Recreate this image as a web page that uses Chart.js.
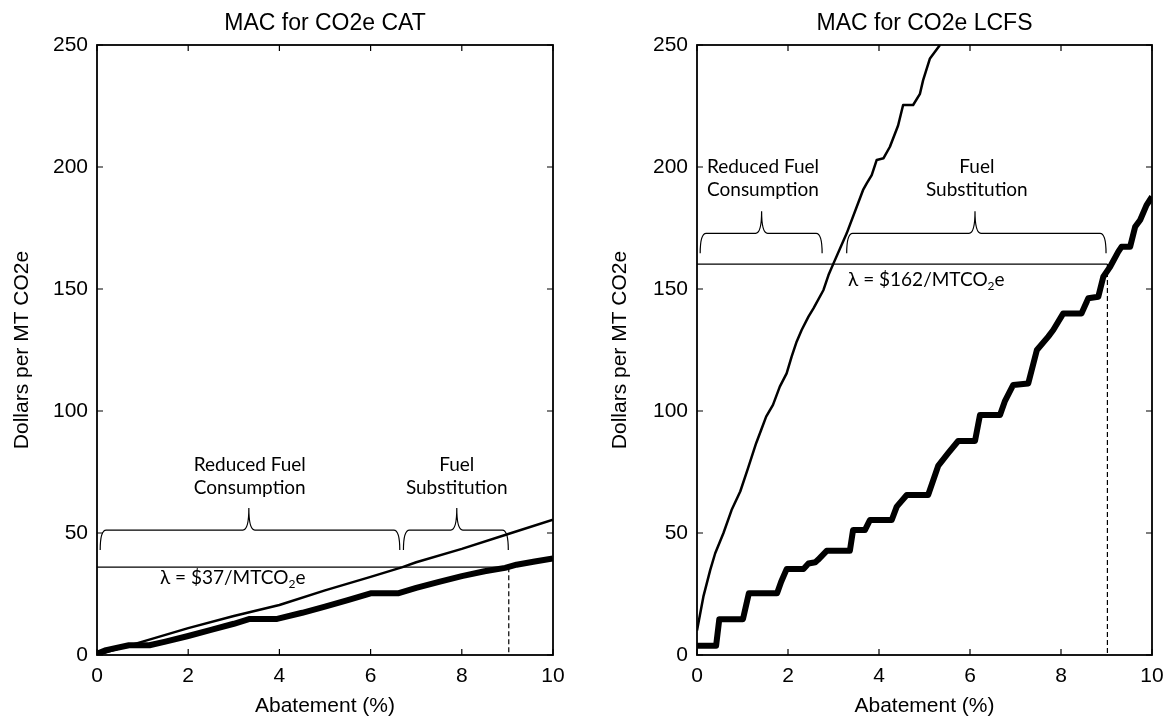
<!DOCTYPE html>
<html>
<head>
<meta charset="utf-8">
<script src="https://cdn.jsdelivr.net/npm/chart.js@4.4.0/dist/chart.umd.min.js"></script>
<style>
  body { margin: 0; background: #fff; width: 1173px; height: 725px; overflow: hidden; }
  canvas { position: absolute; top: 0; }
  #catChart { left: 0; }
  #lcfsChart { left: 586px; }
</style>
</head>
<body>
<canvas id="catChart" width="586" height="725"></canvas>
<canvas id="lcfsChart" width="587" height="725"></canvas>
<script>
// axis ticks
var xTicks = [0, 2, 4, 6, 8, 10];
var yTicks = [0, 50, 100, 150, 200, 250];

// CAT panel
var catThinX = [0, 1, 2, 3, 4, 5, 6, 6.7, 7, 8, 9, 10];
var catThinY = [0, 5.5, 11, 16, 20.5, 26.5, 32, 36, 38, 43.5, 49.5, 55.5];
var catThickX = [0, 0.2, 0.7, 1.15, 1.5, 2, 2.5, 3, 3.35, 3.95, 4.5, 5, 5.5, 6.0, 6.6, 7, 7.5, 8, 8.5, 8.95, 9.2, 9.6, 10];
var catThickY = [0.5, 2, 4, 4, 5.5, 7.8, 10.3, 12.8, 14.8, 14.8, 17.3, 19.8, 22.5, 25.3, 25.3, 27.5, 30, 32.3, 34.3, 35.7, 37, 38.3, 39.6];
var catLambda = 36;
var catLambdaX = 9.03;

// LCFS panel
var lcfsThinX = [0, 0.14, 0.29, 0.4, 0.58, 0.76, 0.95, 1.12, 1.3, 1.41, 1.52, 1.67, 1.82, 1.97, 2.08, 2.19, 2.3, 2.45, 2.56, 2.78, 2.89, 3.0, 3.29, 3.65, 3.73, 3.84, 3.95, 4.1, 4.24, 4.42, 4.53, 4.75, 4.9, 4.97, 5.12, 5.34];
var lcfsThinY = [10, 23.9, 34.8, 41.7, 49.9, 59.4, 67, 76.5, 86.8, 92.2, 97.7, 102.5, 110, 115.4, 122.3, 128.4, 133.2, 138.7, 142.1, 149.6, 155.7, 160.5, 172.8, 190.6, 193.3, 196.7, 202.9, 203.6, 208.3, 217, 225.4, 225.4, 230, 235.6, 244.5, 250];
var lcfsThickX = [0, 0.42, 0.49, 1.01, 1.14, 1.76, 1.85, 1.97, 2.34, 2.45, 2.6, 2.66, 2.85, 3.36, 3.43, 3.69, 3.8, 4.28, 4.39, 4.61, 5.08, 5.3, 5.52, 5.74, 6.11, 6.22, 6.66, 6.77, 6.95, 7.28, 7.47, 7.72, 7.83, 8.05, 8.45, 8.6, 8.82, 8.93, 9.08, 9.26, 9.33, 9.52, 9.63, 9.74, 9.88, 10];
var lcfsThickY = [3.8, 3.8, 14.7, 14.7, 25.3, 25.3, 30, 35.2, 35.2, 37.5, 38, 39, 42.7, 42.7, 51.2, 51.2, 55.3, 55.3, 60.8, 65.6, 65.6, 77.5, 82.7, 87.7, 87.7, 98.4, 98.4, 104.2, 110.7, 111.3, 125, 130.5, 133.2, 140, 140, 146.2, 146.8, 155, 159.1, 165.3, 167.3, 167.3, 175.5, 178.3, 184.4, 187.8];
var lcfsLambda = 160.2;
var lcfsLambdaX = 9.02;

var axisFont = { family: '"Liberation Sans", Arial, sans-serif', size: 21 };
var noteFont = '19px Lato, "Open Sans", sans-serif';
var subFont = '12px Lato, "Open Sans", sans-serif';

function pts(xs, ys) {
    return xs.map(function(x, i) { return { x: x, y: ys[i] }; });
}

// frame, inward ticks, braces and labels
var decorPlugin = {
    id: 'decor',
    afterDraw: function(chart) {
        var ctx = chart.ctx;
        var a = chart.chartArea;
        var xs = chart.scales.x, ys = chart.scales.y;
        var notes = chart.options.plugins.decor;
        ctx.save();
        ctx.strokeStyle = '#000';
        ctx.lineWidth = 1.8;
        ctx.strokeRect(a.left, a.top, a.right - a.left, a.bottom - a.top);
        ctx.lineWidth = 1.2;
        ctx.beginPath();
        xTicks.forEach(function(v) {
            var px = xs.getPixelForValue(v);
            ctx.moveTo(px, a.bottom); ctx.lineTo(px, a.bottom - 6);
            ctx.moveTo(px, a.top); ctx.lineTo(px, a.top + 6);
        });
        yTicks.forEach(function(v) {
            var py = ys.getPixelForValue(v);
            ctx.moveTo(a.left, py); ctx.lineTo(a.left + 6, py);
            ctx.moveTo(a.right, py); ctx.lineTo(a.right - 6, py);
        });
        ctx.stroke();

        // curly braces
        ctx.lineWidth = 1.2;
        notes.braces.forEach(function(b) {
            var x1 = xs.getPixelForValue(b.x1), x2 = xs.getPixelForValue(b.x2);
            var xt = xs.getPixelForValue(b.tip), y = ys.getPixelForValue(b.y);
            var r = 6, down = 20, up = 22;
            ctx.beginPath();
            ctx.moveTo(x1, y + down);
            ctx.quadraticCurveTo(x1, y, x1 + r, y);
            ctx.lineTo(xt - r, y);
            ctx.quadraticCurveTo(xt, y, xt, y - up);
            ctx.quadraticCurveTo(xt, y, xt + r, y);
            ctx.lineTo(x2 - r, y);
            ctx.quadraticCurveTo(x2, y, x2, y + down);
            ctx.stroke();
        });

        ctx.fillStyle = '#000';
        ctx.font = noteFont;
        ctx.textAlign = 'center';
        ctx.textBaseline = 'middle';
        notes.labels.forEach(function(l) {
            ctx.fillText(l.text, xs.getPixelForValue(l.x), ys.getPixelForValue(l.y));
        });

        // lambda label with subscript
        var lx = xs.getPixelForValue(notes.lambda.x), ly = ys.getPixelForValue(notes.lambda.y);
        ctx.textAlign = 'left';
        var p1 = notes.lambda.text, p2 = '2', p3 = 'e';
        ctx.fillText(p1, lx, ly);
        var w1 = ctx.measureText(p1).width;
        ctx.font = subFont;
        ctx.fillText(p2, lx + w1, ly + 6);
        var w2 = ctx.measureText(p2).width;
        ctx.font = noteFont;
        ctx.fillText(p3, lx + w1 + w2, ly);
        ctx.restore();
    }
};

function makeChart(id, title, thin, thick, lambdaY, lambdaX, yWidth, yTitlePad, rightPad, decor) {
    var ctx = document.getElementById(id).getContext('2d');
    return new Chart(ctx, {
        type: 'scatter',
        data: {
            datasets: [
                { data: thin, borderColor: '#000', borderWidth: 2.5 },
                { data: thick, borderColor: '#000', borderWidth: 6 },
                { data: [{ x: 0, y: lambdaY }, { x: lambdaX, y: lambdaY }], borderColor: '#000', borderWidth: 1.2 },
                { data: [{ x: lambdaX, y: lambdaY }, { x: lambdaX, y: 0 }], borderColor: '#000', borderWidth: 1.2, borderDash: [5, 3] }
            ]
        },
        options: {
            responsive: false,
            animation: false,
            devicePixelRatio: 1,
            showLine: true,
            elements: { point: { radius: 0, hoverRadius: 0 }, line: { tension: 0, borderJoinStyle: 'round', borderCapStyle: 'butt' } },
            layout: { padding: { left: 0, right: rightPad, top: 0, bottom: 0 } },
            plugins: {
                legend: { display: false },
                tooltip: { enabled: false },
                title: {
                    display: true, text: title, color: '#000', fullSize: false,
                    font: { family: axisFont.family, size: 23, weight: 'normal' },
                    padding: { top: 9.5, bottom: 7.9 }
                },
                decor: decor
            },
            scales: {
                x: {
                    type: 'linear', min: 0, max: 10,
                    afterBuildTicks: function(s) { s.ticks = xTicks.map(function(v) { return { value: v }; }); },
                    afterFit: function(s) { s.height = 70; },
                    grid: { display: false, drawTicks: false },
                    border: { display: false },
                    ticks: { color: '#000', font: axisFont, padding: 8.5, maxRotation: 0 },
                    title: { display: true, text: 'Abatement (%)', color: '#000', font: axisFont, padding: { top: 0, bottom: 6.4 } }
                },
                y: {
                    type: 'linear', min: 0, max: 250,
                    afterBuildTicks: function(s) { s.ticks = yTicks.map(function(v) { return { value: v }; }); },
                    afterFit: function(s) { s.width = yWidth; },
                    grid: { display: false, drawTicks: false },
                    border: { display: false },
                    ticks: { color: '#000', font: axisFont, padding: 9 },
                    title: { display: true, text: 'Dollars per MT CO2e', color: '#000', font: axisFont, padding: { top: yTitlePad, bottom: 0 } }
                }
            }
        },
        plugins: [decorPlugin]
    });
}

makeChart('catChart', 'MAC for CO2e CAT', pts(catThinX, catThinY), pts(catThickX, catThickY), catLambda, catLambdaX, 97, 9.4, 33, {
    braces: [{ x1: 0.07, x2: 6.64, tip: 3.33, y: 51.2 }, { x1: 6.72, x2: 9.02, tip: 7.89, y: 51.2 }],
    labels: [
        { text: 'Reduced Fuel', x: 3.35, y: 78 }, { text: 'Consumption', x: 3.35, y: 68.5 },
        { text: 'Fuel', x: 7.89, y: 78 }, { text: 'Substitution', x: 7.89, y: 68.5 }
    ],
    lambda: { text: 'λ = $37/MTCO', x: 1.38, y: 31.5 }
});

makeChart('lcfsChart', 'MAC for CO2e LCFS', pts(lcfsThinX, lcfsThinY), pts(lcfsThickX, lcfsThickY), lcfsLambda, lcfsLambdaX, 111, 22, 21, {
    braces: [{ x1: 0.07, x2: 2.75, tip: 1.42, y: 172.8 }, { x1: 3.29, x2: 8.99, tip: 6.11, y: 172.8 }],
    labels: [
        { text: 'Reduced Fuel', x: 1.45, y: 200 }, { text: 'Consumption', x: 1.45, y: 190.6 },
        { text: 'Fuel', x: 6.15, y: 200 }, { text: 'Substitution', x: 6.15, y: 190.6 }
    ],
    lambda: { text: 'λ = $162/MTCO', x: 3.32, y: 153.7 }
});
</script>
</body>
</html>
